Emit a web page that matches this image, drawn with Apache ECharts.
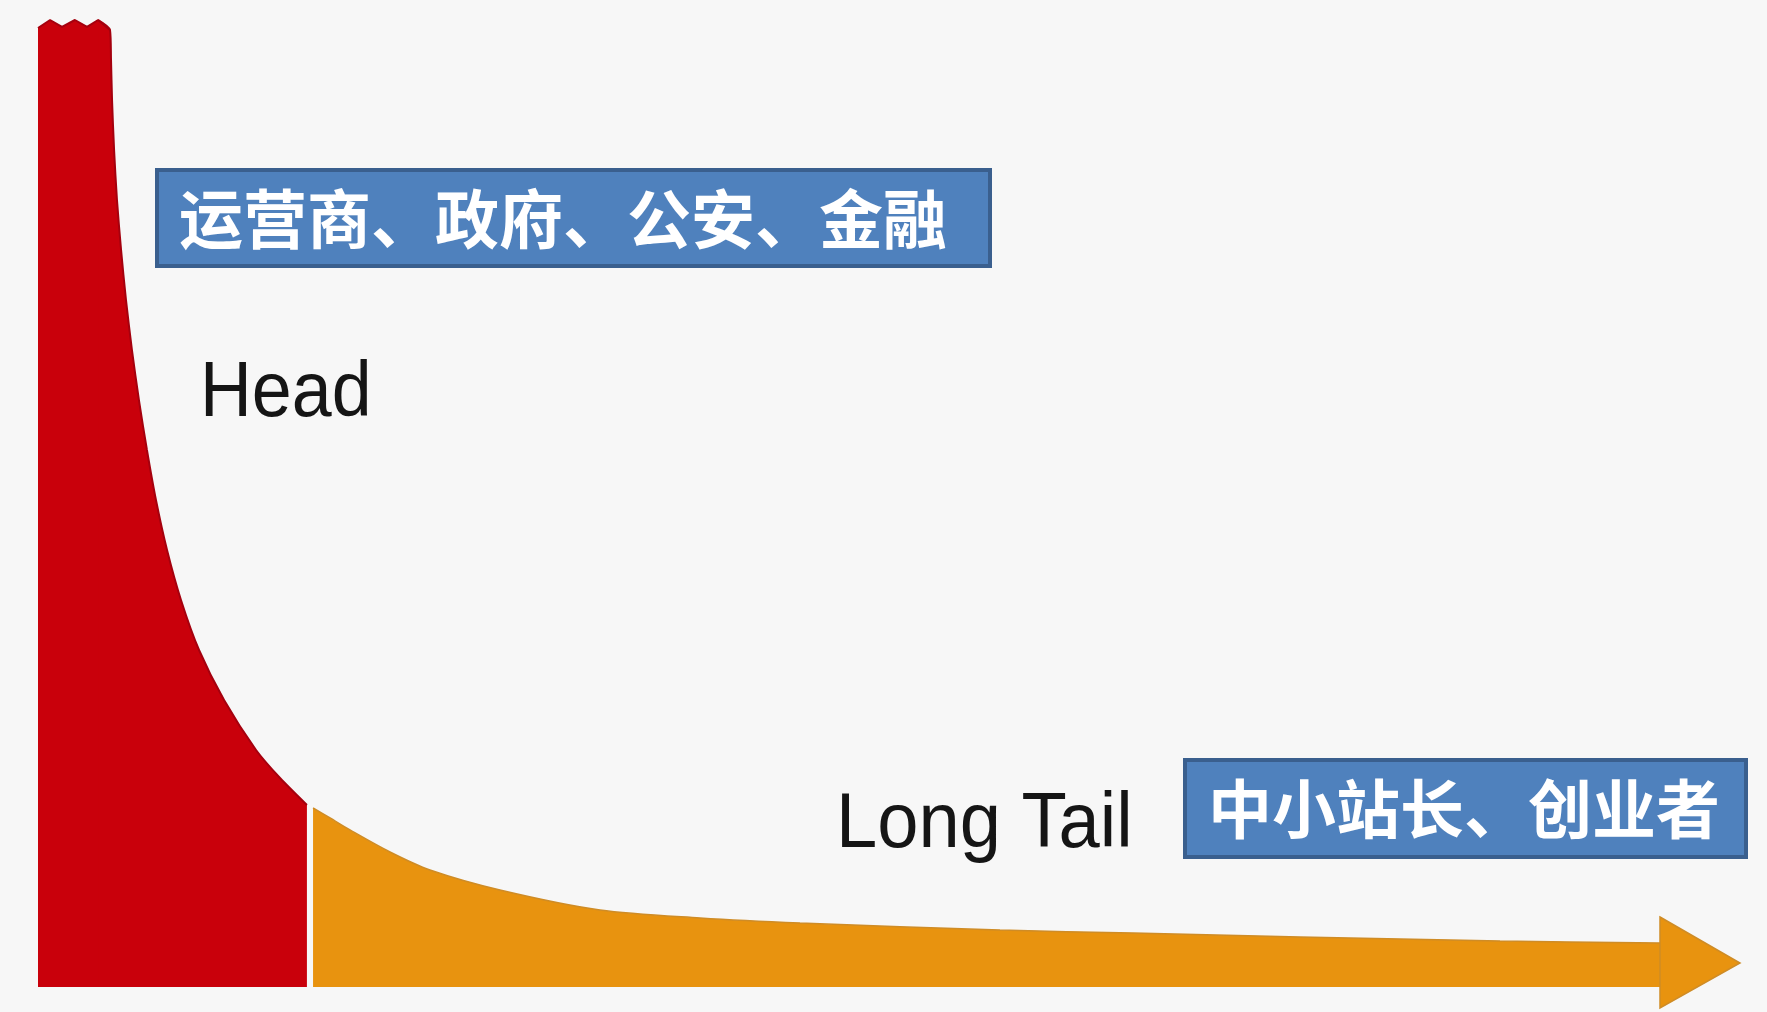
<!DOCTYPE html>
<html>
<head>
<meta charset="utf-8">
<script src="https://cdn.jsdelivr.net/npm/echarts@6/dist/echarts.min.js"></script>
<style>
html,body{margin:0;padding:0;background:#f7f7f7;}
#c{width:1767px;height:1012px;}
</style>
</head>
<body>
<div id="c"></div>
<script>
// Head (red): jagged top of the peak
const peakX = [0.00, 0.71, 1.41, 2.17, 2.88, 3.53, 4.23];
const peakY = [99.17, 100.0, 99.28, 100.0, 99.28, 100.0, 98.97];
// Head (red) curve: rank (x) vs popularity (y)
const headX = [3.53, 4.23, 4.29, 4.35, 4.47, 4.64, 4.88, 5.17, 5.52, 5.93, 6.40, 6.93, 7.58, 8.40, 9.46, 10.93, 12.81, 14.22, 15.80];
const headY = [100.0, 98.97, 95.86, 91.73, 86.56, 81.39, 76.22, 71.04, 65.87, 60.70, 55.53, 50.36, 45.19, 40.02, 34.85, 29.68, 24.51, 21.61, 18.82];
// Long tail (orange) curve
const tailX = [16.16, 17.16, 18.33, 20.68, 23.03, 27.14, 33.02, 38.90, 44.77, 56.52, 64.34, 74.15, 85.90, 95.30];
const tailY = [18.51, 17.48, 16.24, 13.96, 12.10, 10.03, 7.96, 7.14, 6.62, 5.89, 5.58, 5.17, 4.76, 4.55];
// Arrow head at end of tail
const arrowX = [95.30, 100.0, 95.30];
const arrowY = [7.24, 2.48, -2.17];
// Labels
const headLabel = 'Head';
const tailLabel = 'Long Tail';
const headGroups = '运营商、政府、公安、金融';
const tailGroups = '中小站长、创业者';

const zip = (a, b) => a.map((v, i) => [v, b[i]]);
const RED = '#c9000b', RED_EDGE = '#a5000e', ORANGE = '#e8930f', ORANGE_EDGE = '#cf8c26';

const chart = echarts.init(document.getElementById('c'), null, {renderer: 'canvas'});
const option = {
  backgroundColor: '#f7f7f7',
  animation: false,
  grid: {left: 38, right: 27, top: 20, bottom: 25},
  xAxis: {type: 'value', min: 0, max: 100, show: false},
  yAxis: {type: 'value', min: 0, max: 100, show: false},
  series: [
    {
      type: 'line',
      data: zip(peakX, peakY),
      symbol: 'none',
      smooth: false,
      lineStyle: {color: RED_EDGE, width: 2},
      areaStyle: {color: RED, opacity: 1},
      z: 3
    },
    {
      type: 'line',
      data: zip(headX, headY),
      symbol: 'none',
      smooth: 0.25,
      lineStyle: {color: RED_EDGE, width: 2},
      areaStyle: {color: RED, opacity: 1},
      z: 3
    },
    {
      type: 'line',
      data: zip(tailX, tailY),
      symbol: 'none',
      smooth: 0.3,
      lineStyle: {color: ORANGE_EDGE, width: 1.5},
      areaStyle: {color: ORANGE, opacity: 1},
      z: 3
    },
    {
      type: 'custom',
      clip: false,
      data: zip(arrowX, arrowY),
      renderItem: function (params, api) {
        if (params.dataIndex !== 0) return null;
        const pts = arrowX.map((x, i) => api.coord([x, arrowY[i]]));
        return {
          type: 'polygon',
          shape: {points: pts},
          style: {fill: ORANGE, stroke: ORANGE_EDGE, lineWidth: 1.5}
        };
      },
      z: 4
    }
  ],
  graphic: [
    {type: 'rect', shape: {x: 157, y: 170, width: 833, height: 96},
     style: {fill: '#4f81bd', stroke: '#3a5f8e', lineWidth: 4}, z: 10},
    {type: 'text', x: 179, y: 219, z: 11,
     style: {text: headGroups, x: 0, y: 0, fill: '#ffffff',
             font: 'bold 64px "Noto Sans CJK SC"', textAlign: 'left', textVerticalAlign: 'middle'}},
    {type: 'rect', shape: {x: 1185, y: 760, width: 561, height: 97},
     style: {fill: '#4f81bd', stroke: '#3a5f8e', lineWidth: 4}, z: 10},
    {type: 'text', x: 1208, y: 809, z: 11,
     style: {text: tailGroups, x: 0, y: 0, fill: '#ffffff',
             font: 'bold 64px "Noto Sans CJK SC"', textAlign: 'left', textVerticalAlign: 'middle'}},
    {type: 'text', x: 200, y: 394, scaleX: 0.92, z: 11,
     style: {text: headLabel, x: 0, y: 0, fill: '#151515',
             font: '78px "Liberation Sans"', textAlign: 'left', textVerticalAlign: 'middle'}},
    {type: 'text', x: 836, y: 825, scaleX: 0.95, z: 11,
     style: {text: tailLabel, x: 0, y: 0, fill: '#151515',
             font: '78px "Liberation Sans"', textAlign: 'left', textVerticalAlign: 'middle'}}
  ]
};
chart.setOption(option);
</script>
</body>
</html>
